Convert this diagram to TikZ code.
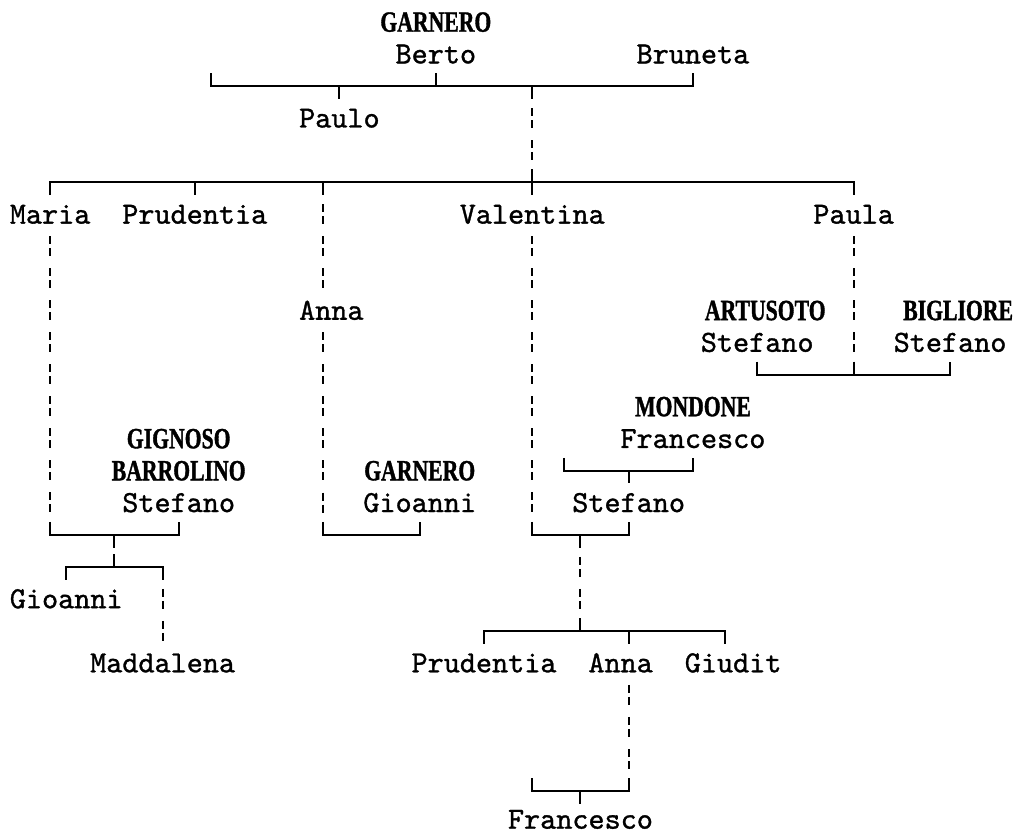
\documentclass[tikz,border=0pt]{standalone}
\usepackage[svgnames]{xcolor}
\usepackage{fontspec}
\usepackage{tikz}
\newfontfamily\givenfont{lmmono10-regular}[Extension=.otf,FakeBold=1.1]
\newfontfamily\familyfont{LiberationSerif-Bold}[Extension=.ttf,FakeStretch=0.74,FakeBold=1.2]
\pgfdeclarelayer{edgelayer}
\pgfdeclarelayer{nodelayer}
\pgfsetlayers{edgelayer,nodelayer,main}
\tikzstyle{none}=[inner sep=0pt]
\tikzstyle{given}=[inner sep=0pt,text=Black,font=\givenfont\fontsize{23pt}{23pt}\selectfont,text height=14pt,text depth=0pt]
\tikzstyle{family}=[inner sep=0pt,text=Black,font=\familyfont\fontsize{22pt}{22pt}\selectfont,text height=14.5pt,text depth=0pt]
\tikzstyle{simple}=[-,draw=Black,line width=1.5pt]
\tikzstyle{broken}=[-,draw=Black,line width=1.5pt,dash pattern=on 6pt off 3pt on 6pt off 9pt,dash phase=19.5pt]

\begin{document}
\begin{tikzpicture}[x=12.05pt,y=24.03pt]
	\useasboundingbox (-1.12,0.687) rectangle (62.6,-25.343);
	\begin{pgfonlayer}{nodelayer}
		\node [style=family] (0) at (26, 0) {GARNERO};
		\node [style=given] (1) at (26, -1) {Berto};
		\node [style=given] (2) at (42, -1) {Bruneta};
		\node [style=given] (3) at (20, -3) {Paulo};
		\node [style=given] (4) at (2, -6) {Maria};
		\node [style=given] (5) at (11, -6) {Prudentia};
		\node [style=given] (6) at (32, -6) {Valentina};
		\node [style=given] (7) at (52, -6) {Paula};
		\node [style=given] (8) at (19.5, -9) {Anna};
		\node [style=family] (9) at (46.5, -9) {ARTUSOTO};
		\node [style=family] (10) at (58.5, -9) {BIGLIORE};
		\node [style=given] (11) at (46, -10) {Stefano};
		\node [style=given] (12) at (58, -10) {Stefano};
		\node [style=family] (13) at (42, -12) {MONDONE};
		\node [style=given] (14) at (42, -13) {Francesco};
		\node [style=family] (15) at (10, -13) {GIGNOSO};
		\node [style=family] (16) at (10, -14) {BARROLINO};
		\node [style=family] (17) at (25, -14) {GARNERO};
		\node [style=given] (18) at (10, -15) {Stefano};
		\node [style=given] (19) at (25, -15) {Gioanni};
		\node [style=given] (20) at (38, -15) {Stefano};
		\node [style=given] (21) at (3, -18) {Gioanni};
		\node [style=given] (22) at (9, -20) {Maddalena};
		\node [style=given] (23) at (29, -20) {Prudentia};
		\node [style=given] (24) at (37.5, -20) {Anna};
		\node [style=given] (25) at (44.5, -20) {Giudit};
		\node [style=given] (26) at (35, -24.88) {Francesco};
		\node [style=none] (27) at (12, -1.6) {};
		\node [style=none] (28) at (12, -2) {};
		\node [style=none] (29) at (42, -2) {};
		\node [style=none] (30) at (42, -1.6) {};
		\node [style=none] (31) at (26, -1.6) {};
		\node [style=none] (32) at (26, -2) {};
		\node [style=none] (33) at (20, -2) {};
		\node [style=none] (34) at (20, -2.4) {};
		\node [style=none] (35) at (32, -2) {};
		\node [style=none] (36) at (32, -2.4) {};
		\node [style=none] (37) at (32, -2.5) {};
		\node [style=none] (38) at (32, -4.5) {};
		\node [style=none] (39) at (2, -5.4) {};
		\node [style=none] (40) at (2, -5) {};
		\node [style=none] (41) at (52, -5) {};
		\node [style=none] (42) at (52, -5.4) {};
		\node [style=none] (43) at (11, -5) {};
		\node [style=none] (44) at (11, -5.4) {};
		\node [style=none] (45) at (19, -5) {};
		\node [style=none] (46) at (19, -5.4) {};
		\node [style=none] (47) at (32, -4.6) {};
		\node [style=none] (48) at (32, -5.4) {};
		\node [style=none] (49) at (2, -6.5) {};
		\node [style=none] (50) at (2, -15.5) {};
		\node [style=none] (51) at (19, -5.5) {};
		\node [style=none] (52) at (19, -8.5) {};
		\node [style=none] (53) at (19, -9.5) {};
		\node [style=none] (54) at (19, -15.5) {};
		\node [style=none] (55) at (32, -6.5) {};
		\node [style=none] (56) at (32, -15.5) {};
		\node [style=none] (57) at (52, -6.5) {};
		\node [style=none] (58) at (52, -10.5) {};
		\node [style=none] (59) at (46, -10.6) {};
		\node [style=none] (60) at (46, -11) {};
		\node [style=none] (61) at (58, -11) {};
		\node [style=none] (62) at (58, -10.6) {};
		\node [style=none] (63) at (52, -10.6) {};
		\node [style=none] (64) at (52, -11) {};
		\node [style=none] (65) at (34, -13.6) {};
		\node [style=none] (66) at (34, -14) {};
		\node [style=none] (67) at (42, -14) {};
		\node [style=none] (68) at (42, -13.6) {};
		\node [style=none] (69) at (38, -14) {};
		\node [style=none] (70) at (38, -14.4) {};
		\node [style=none] (71) at (2, -15.6) {};
		\node [style=none] (72) at (2, -16) {};
		\node [style=none] (73) at (10, -16) {};
		\node [style=none] (74) at (10, -15.6) {};
		\node [style=none] (75) at (6, -16) {};
		\node [style=none] (76) at (6, -16.4) {};
		\node [style=none] (77) at (19, -15.6) {};
		\node [style=none] (78) at (19, -16) {};
		\node [style=none] (79) at (25, -16) {};
		\node [style=none] (80) at (25, -15.6) {};
		\node [style=none] (81) at (32, -15.6) {};
		\node [style=none] (82) at (32, -16) {};
		\node [style=none] (83) at (38, -16) {};
		\node [style=none] (84) at (38, -15.6) {};
		\node [style=none] (85) at (35, -16) {};
		\node [style=none] (86) at (35, -16.4) {};
		\node [style=none] (87) at (6, -16.6) {};
		\node [style=none] (88) at (6, -17) {};
		\node [style=none] (89) at (3, -17.4) {};
		\node [style=none] (90) at (3, -17) {};
		\node [style=none] (91) at (9, -17) {};
		\node [style=none] (92) at (9, -17.4) {};
		\node [style=none] (93) at (9, -17.5) {};
		\node [style=none] (94) at (9, -19.5) {};
		\node [style=none] (95) at (35, -16.5) {};
		\node [style=none] (96) at (35, -18.5) {};
		\node [style=none] (97) at (35, -18.6) {};
		\node [style=none] (98) at (35, -19) {};
		\node [style=none] (99) at (29, -19.4) {};
		\node [style=none] (100) at (29, -19) {};
		\node [style=none] (101) at (44, -19) {};
		\node [style=none] (102) at (44, -19.4) {};
		\node [style=none] (103) at (38, -19) {};
		\node [style=none] (104) at (38, -19.4) {};
		\node [style=none] (105) at (38, -20.5) {};
		\node [style=none] (106) at (38, -23.5) {};
		\node [style=none] (107) at (32, -23.6) {};
		\node [style=none] (108) at (32, -24) {};
		\node [style=none] (109) at (38, -24) {};
		\node [style=none] (110) at (38, -23.6) {};
		\node [style=none] (111) at (35, -24) {};
		\node [style=none] (112) at (35, -24.4) {};
	\end{pgfonlayer}
	\begin{pgfonlayer}{edgelayer}
		\draw [style=simple] (27.center) to (28.center) to (29.center) to (30.center);
		\draw [style=simple] (31.center) to (32.center);
		\draw [style=simple] (33.center) to (34.center);
		\draw [style=simple] (35.center) to (36.center);
		\draw [style=broken] (37.center) to (38.center);
		\draw [style=simple] (39.center) to (40.center) to (41.center) to (42.center);
		\draw [style=simple] (43.center) to (44.center);
		\draw [style=simple] (45.center) to (46.center);
		\draw [style=simple] (47.center) to (48.center);
		\draw [style=broken] (49.center) to (50.center);
		\draw [style=broken] (51.center) to (52.center);
		\draw [style=broken] (53.center) to (54.center);
		\draw [style=broken] (55.center) to (56.center);
		\draw [style=broken] (57.center) to (58.center);
		\draw [style=simple] (59.center) to (60.center) to (61.center) to (62.center);
		\draw [style=simple] (63.center) to (64.center);
		\draw [style=simple] (65.center) to (66.center) to (67.center) to (68.center);
		\draw [style=simple] (69.center) to (70.center);
		\draw [style=simple] (71.center) to (72.center) to (73.center) to (74.center);
		\draw [style=simple] (75.center) to (76.center);
		\draw [style=simple] (77.center) to (78.center) to (79.center) to (80.center);
		\draw [style=simple] (81.center) to (82.center) to (83.center) to (84.center);
		\draw [style=simple] (85.center) to (86.center);
		\draw [style=simple] (87.center) to (88.center);
		\draw [style=simple] (89.center) to (90.center) to (91.center) to (92.center);
		\draw [style=broken] (93.center) to (94.center);
		\draw [style=broken] (95.center) to (96.center);
		\draw [style=simple] (97.center) to (98.center);
		\draw [style=simple] (99.center) to (100.center) to (101.center) to (102.center);
		\draw [style=simple] (103.center) to (104.center);
		\draw [style=broken] (105.center) to (106.center);
		\draw [style=simple] (107.center) to (108.center) to (109.center) to (110.center);
		\draw [style=simple] (111.center) to (112.center);
	\end{pgfonlayer}
\end{tikzpicture}
\end{document}
